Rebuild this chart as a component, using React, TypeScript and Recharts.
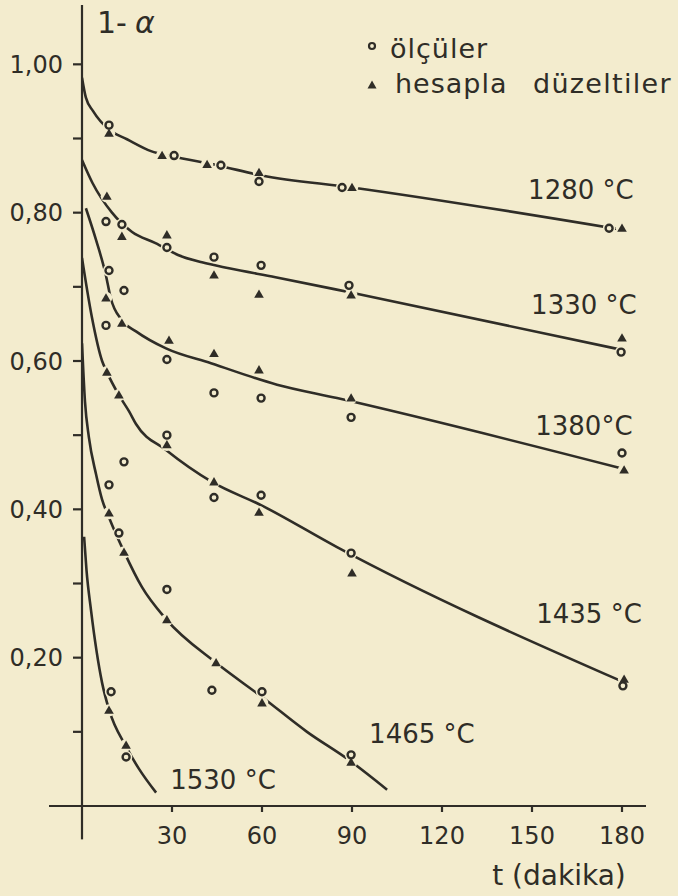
import React from 'react';
import { ComposedChart, Line, Scatter, XAxis, YAxis, ReferenceLine, Legend, Label } from 'recharts';

const INK = '#2f2d27';
const PAPER = '#f3ecce';
const FONT = '"DejaVu Sans", sans-serif';

type P = { t: number; v: number };

// fitted curves
const curve1280: P[] = [
  { t: 0, v: 0.982 }, { t: 1.3, v: 0.955 }, { t: 3.7, v: 0.937 }, { t: 9, v: 0.912 }, { t: 15, v: 0.899 },
  { t: 23, v: 0.883 }, { t: 30, v: 0.876 }, { t: 45, v: 0.864 }, { t: 60, v: 0.85 }, { t: 90, v: 0.834 }, { t: 180, v: 0.777 },
];
const curve1330: P[] = [
  { t: 0, v: 0.871 }, { t: 3.5, v: 0.84 }, { t: 10, v: 0.8 }, { t: 16.7, v: 0.774 }, { t: 24.5, v: 0.759 }, { t: 32, v: 0.743 },
  { t: 40, v: 0.733 }, { t: 49, v: 0.725 }, { t: 64.5, v: 0.713 }, { t: 90, v: 0.692 }, { t: 180, v: 0.615 },
];
const curve1380: P[] = [
  { t: 1.3, v: 0.806 }, { t: 4.7, v: 0.763 }, { t: 8, v: 0.715 }, { t: 9.5, v: 0.686 }, { t: 13.3, v: 0.655 }, { t: 18, v: 0.64 },
  { t: 28, v: 0.617 }, { t: 43, v: 0.597 }, { t: 65, v: 0.568 }, { t: 85, v: 0.55 }, { t: 180, v: 0.455 },
];
const curve1435: P[] = [
  { t: 0, v: 0.739 }, { t: 3.3, v: 0.659 }, { t: 6.7, v: 0.6 }, { t: 8.3, v: 0.585 }, { t: 12.3, v: 0.554 }, { t: 15.7, v: 0.532 },
  { t: 18, v: 0.515 }, { t: 28, v: 0.48 }, { t: 43.3, v: 0.437 }, { t: 60, v: 0.405 }, { t: 85, v: 0.349 }, { t: 180, v: 0.168 },
];
const curve1465: P[] = [
  { t: 0, v: 0.624 }, { t: 1, v: 0.545 }, { t: 2.3, v: 0.497 }, { t: 4.7, v: 0.447 }, { t: 6.7, v: 0.413 }, { t: 9, v: 0.389 },
  { t: 14, v: 0.343 }, { t: 20, v: 0.295 }, { t: 28, v: 0.252 }, { t: 44.7, v: 0.193 }, { t: 60, v: 0.147 }, { t: 75, v: 0.1 },
  { t: 89, v: 0.062 }, { t: 101.7, v: 0.022 },
];
const curve1530: P[] = [
  { t: 0.7, v: 0.363 }, { t: 1.5, v: 0.318 }, { t: 3, v: 0.264 }, { t: 6.7, v: 0.166 }, { t: 9, v: 0.13 }, { t: 14.7, v: 0.08 },
  { t: 19, v: 0.05 }, { t: 24.7, v: 0.018 },
];

// ölçüler (measured, circles)
const meas1280: P[] = [
  { t: 9, v: 0.918 }, { t: 30.7, v: 0.877 }, { t: 46.3, v: 0.864 }, { t: 59, v: 0.842 }, { t: 86.7, v: 0.834 }, { t: 175.7, v: 0.779 },
];
const meas1330: P[] = [
  { t: 8, v: 0.788 }, { t: 13.3, v: 0.784 }, { t: 28.3, v: 0.753 }, { t: 44, v: 0.74 }, { t: 59.7, v: 0.729 }, { t: 89, v: 0.702 }, { t: 179.7, v: 0.612 },
];
const meas1380: P[] = [
  { t: 9, v: 0.722 }, { t: 14, v: 0.695 }, { t: 28.3, v: 0.602 }, { t: 44, v: 0.557 }, { t: 59.7, v: 0.55 }, { t: 89.7, v: 0.524 }, { t: 180, v: 0.476 },
];
const meas1435: P[] = [
  { t: 8, v: 0.648 }, { t: 14, v: 0.464 }, { t: 28.3, v: 0.5 }, { t: 44, v: 0.416 }, { t: 59.7, v: 0.419 }, { t: 89.7, v: 0.341 }, { t: 180.3, v: 0.162 },
];
const meas1465: P[] = [
  { t: 9, v: 0.433 }, { t: 12.3, v: 0.368 }, { t: 28.3, v: 0.292 }, { t: 43.3, v: 0.156 }, { t: 60, v: 0.154 }, { t: 89.7, v: 0.069 },
];
const meas1530: P[] = [{ t: 9.7, v: 0.154 }, { t: 14.7, v: 0.066 }];

// hesapla düzeltiler (corrected, triangles)
const corr1280: P[] = [
  { t: 9, v: 0.907 }, { t: 26.7, v: 0.877 }, { t: 41.7, v: 0.865 }, { t: 59, v: 0.854 }, { t: 90, v: 0.834 }, { t: 180, v: 0.779 },
];
const corr1330: P[] = [
  { t: 8.3, v: 0.822 }, { t: 13.3, v: 0.768 }, { t: 28.3, v: 0.77 }, { t: 44, v: 0.716 }, { t: 59, v: 0.69 }, { t: 89.7, v: 0.689 }, { t: 180, v: 0.631 },
];
const corr1380: P[] = [
  { t: 8, v: 0.685 }, { t: 13.3, v: 0.651 }, { t: 29, v: 0.628 }, { t: 44, v: 0.61 }, { t: 59, v: 0.588 }, { t: 89.7, v: 0.55 }, { t: 180.7, v: 0.453 },
];
const corr1435: P[] = [
  { t: 8.3, v: 0.585 }, { t: 12.3, v: 0.554 }, { t: 28.3, v: 0.487 }, { t: 44, v: 0.437 }, { t: 59, v: 0.396 }, { t: 90, v: 0.314 }, { t: 180.7, v: 0.171 },
];
const corr1465: P[] = [
  { t: 9, v: 0.395 }, { t: 14, v: 0.342 }, { t: 28.3, v: 0.251 }, { t: 44.7, v: 0.193 }, { t: 60, v: 0.139 }, { t: 89.7, v: 0.059 },
];
const corr1530: P[] = [{ t: 9, v: 0.129 }, { t: 14.7, v: 0.082 }];

const curves = [curve1280, curve1330, curve1380, curve1435, curve1465, curve1530];
const measured = [meas1280, meas1330, meas1380, meas1435, meas1465, meas1530];
const corrected = [corr1280, corr1330, corr1380, corr1435, corr1465, corr1530];

const tempLabels = ['1280 °C', '1330 °C', '1380°C', '1435 °C', '1465 °C', '1530 °C'];
const labelAnchorT = [166.3, 167.3, 167.3, 169, 113.3, 47];
const labelAnchorV = [0.83, 0.675, 0.513, 0.259, 0.097, 0.035];
const labelData = tempLabels.map((text, i) => ({ t: labelAnchorT[i], v: labelAnchorV[i], text }));

const xTicks = [30, 60, 90, 120, 150, 180];
const yTicks = [0.1, 0.2, 0.3, 0.4, 0.5, 0.6, 0.7, 0.8, 0.9, 1.0];
const yLabelled = [0.2, 0.4, 0.6, 0.8, 1.0];

const fmtY = (v: number) => (yLabelled.some((l) => Math.abs(l - v) < 1e-6) ? v.toFixed(2).replace('.', ',') : '');

const Halo = (p: any) => <circle cx={p.cx} cy={p.cy} r={6.2} fill={PAPER} />;
const CircleMark = (p: any) => (
  <circle cx={p.cx} cy={p.cy} r={3.5} fill={PAPER} stroke={INK} strokeWidth={2.4} />
);
const TriMark = (p: any) => (
  <path
    d={`M${p.cx},${p.cy - 4.8} L${p.cx + 4.8},${p.cy + 3.5} L${p.cx - 4.8},${p.cy + 3.5} Z`}
    fill={INK}
  />
);
const TextMark = (p: any) => (
  <text
    x={p.cx}
    y={p.cy}
    textAnchor="middle"
    dominantBaseline="central"
    fontFamily={FONT}
    fontSize={26}
    fill={INK}
  >
    {p.payload.text}
  </text>
);

const renderLegend = () => (
  <svg width={316} height={110} style={{ display: 'block' }}>
    <circle cx={10} cy={46} r={3} fill={PAPER} stroke={INK} strokeWidth={2.2} />
    <text x={28} y={58} fontFamily={FONT} fontSize={27} letterSpacing={1} fill={INK}>
      ölçüler
    </text>
    <path d="M10,80.5 L14.5,88.5 L5.5,88.5 Z" fill={INK} />
    <text x={33} y={93} fontFamily={FONT} fontSize={27} letterSpacing={1} fill={INK}>
      hesapla
    </text>
    <text x={171} y={93} fontFamily={FONT} fontSize={27} letterSpacing={1.3} fill={INK}>
      düzeltiler
    </text>
  </svg>
);

export default function App() {
  return (
    <div style={{ position: 'fixed', left: 0, top: 0, width: 678, height: 896, background: PAPER }}>
      <ComposedChart width={678} height={896} margin={{ top: 5, right: 32, bottom: 40, left: 12 }}>
        <XAxis
          dataKey="t"
          type="number"
          domain={[0, 188]}
          ticks={xTicks}
          allowDataOverflow
          stroke={INK}
          strokeWidth={2.2}
          tickSize={6}
          tickMargin={15}
          height={50}
          tick={{ fill: INK, fontSize: 24, fontFamily: FONT }}
        >
          <Label
            content={() => (
              <text x={559} y={885} textAnchor="middle" fontFamily={FONT} fontSize={28} fill={INK}>
                t (dakika)
              </text>
            )}
          />
        </XAxis>
        <YAxis
          dataKey="v"
          type="number"
          domain={[0, 1.08]}
          ticks={yTicks}
          allowDataOverflow
          width={70}
          stroke={INK}
          strokeWidth={2.2}
          tickSize={9}
          tickMargin={10}
          tickFormatter={fmtY}
          tick={{ fill: INK, fontSize: 24, fontFamily: FONT }}
        >
          <Label
            content={() => (
              <text x={97} y={33} fontFamily={FONT} fontSize={30} fill={INK}>
                1-<tspan dx={8} fontStyle="italic">α</tspan>
              </text>
            )}
          />
        </YAxis>
        <ReferenceLine
          segment={[{ x: -11, y: 0 }, { x: 0, y: 0 }]}
          stroke={INK}
          strokeWidth={2.2}
          ifOverflow="visible"
        />
        <ReferenceLine
          segment={[{ x: 0, y: 0 }, { x: 0, y: -0.045 }]}
          stroke={INK}
          strokeWidth={2.2}
          ifOverflow="visible"
        />
        <Legend
          layout="vertical"
          align="center"
          verticalAlign="middle"
          content={renderLegend}
          wrapperStyle={{ left: 362, top: 0, width: 316, height: 110 }}
        />
        {curves.map((c, i) => (
          <Line
            key={`c${i}`}
            data={c}
            dataKey="v"
            type="monotone"
            stroke={INK}
            strokeWidth={2.6}
            dot={false}
            activeDot={false}
            isAnimationActive={false}
            legendType="none"
          />
        ))}
        {measured.map((d, i) => (
          <Scatter key={`hm${i}`} data={d} shape={Halo} isAnimationActive={false} legendType="none" />
        ))}
        {corrected.map((d, i) => (
          <Scatter key={`hc${i}`} data={d} shape={Halo} isAnimationActive={false} legendType="none" />
        ))}
        {measured.map((d, i) => (
          <Scatter key={`m${i}`} data={d} shape={CircleMark} isAnimationActive={false} legendType="none" />
        ))}
        {corrected.map((d, i) => (
          <Scatter key={`k${i}`} data={d} shape={TriMark} isAnimationActive={false} legendType="none" />
        ))}
        <Scatter data={labelData} shape={TextMark} isAnimationActive={false} legendType="none" />
      </ComposedChart>
    </div>
  );
}
